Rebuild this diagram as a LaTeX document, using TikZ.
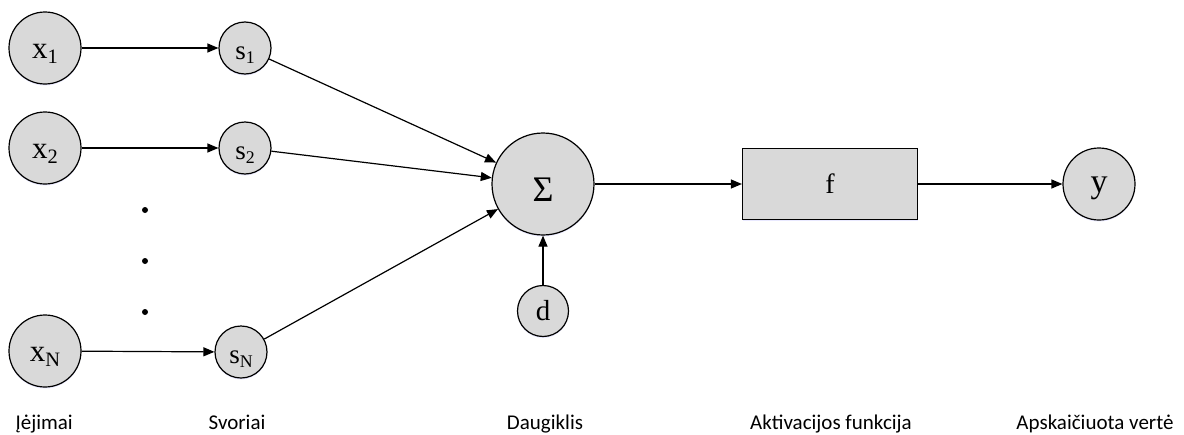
\documentclass[tikz,border=0pt]{standalone}
\usepackage{graphicx}
\usepackage{fontspec}
\setmainfont{Liberation Serif}
\newfontfamily\labelfont{Carlito}
\usetikzlibrary{arrows.meta,shadows}
% lowered, smaller index set in the running text font
\newcommand\idx[1]{\raisebox{-0.14em}{\scalebox{0.66}{#1}}}
\begin{document}
\begin{tikzpicture}[x=1pt,y=-1pt,
  glow/.style={drop shadow={shadow xshift=0pt,shadow yshift=-1.5pt,fill=blue!25,opacity=0.35}},
  unit/.style={circle,draw=black,line width=1.2pt,fill=gray!30,inner sep=0pt,glow},
  bigunit/.style={unit,minimum size=72pt,font=\fontsize{31}{31}\selectfont,
    text height=21.6pt,text depth=0pt},
  weight/.style={unit,minimum size=52pt,font=\fontsize{27}{27}\selectfont,
    text height=23pt,text depth=0pt},
  link/.style={line width=1.2pt,-{Triangle[length=11pt,width=9pt]}},
  caption/.style={font=\labelfont\fontsize{21}{21}\selectfont,anchor=base},
  dot/.style={circle,fill=black,inner sep=0pt,minimum size=6pt}]
\useasboundingbox (0,0) rectangle (1184,434);

% inputs
\node[bigunit] (x1) at (45,48) {x\idx{1}};
\node[bigunit] (x2) at (45,148) {x\idx{2}};
\node[bigunit] (xN) at (45,351) {x\idx{N}};

% weights
\node[weight] (s1) at (245,48) {s\idx{1}};
\node[weight] (s2) at (245,148) {s\idx{2}};
\node[weight] (sN) at (241,352) {s\idx{N}};

% ellipsis between the second and the last input
\node[dot] (d1) at (145,210) {};
\node[dot] (d2) at (145,261) {};
\node[dot] (d3) at (145,312) {};

% summation, bias, activation, output
\node[unit,minimum size=102pt,font=\fontsize{36}{36}\selectfont,
      text height=35pt,text depth=0pt] (sum) at (543,184) {Σ};
\node[unit,minimum size=51pt,font=\fontsize{29}{29}\selectfont] (d) at (543,311) {d};
\node[draw=black,line width=1.2pt,fill=gray!30,minimum width=175pt,minimum height=71pt,
      inner sep=0pt,font=\fontsize{28}{28}\selectfont,glow] (f) at (830,184) {f};
\node[unit,minimum size=72pt,font=\fontsize{34}{34}\selectfont,
      text height=17pt,text depth=0pt] (y) at (1099,184) {y};

% connectors
\draw[link] (x1) -- (s1);
\draw[link] (x2) -- (s2);
\draw[link] (xN) -- (sN);
\draw[link] (s1) -- (sum);
\draw[link] (s2) -- (sum);
\draw[link] (sN) -- (sum);
\draw[link] (d) -- (sum);
\draw[link] (sum) -- (f);
\draw[link] (f) -- (y);

% captions
\node[caption,anchor=base west] (c1) at (12,429) {Įėjimai};
\node[caption] (c2) at (237,429) {Svoriai};
\node[caption] (c3) at (545,429) {Daugiklis};
\node[caption] (c4) at (831,429) {Aktivacijos funkcija};
\node[caption] (c5) at (1095,429) {Apskaičiuota vertė};
\end{tikzpicture}
\end{document}
